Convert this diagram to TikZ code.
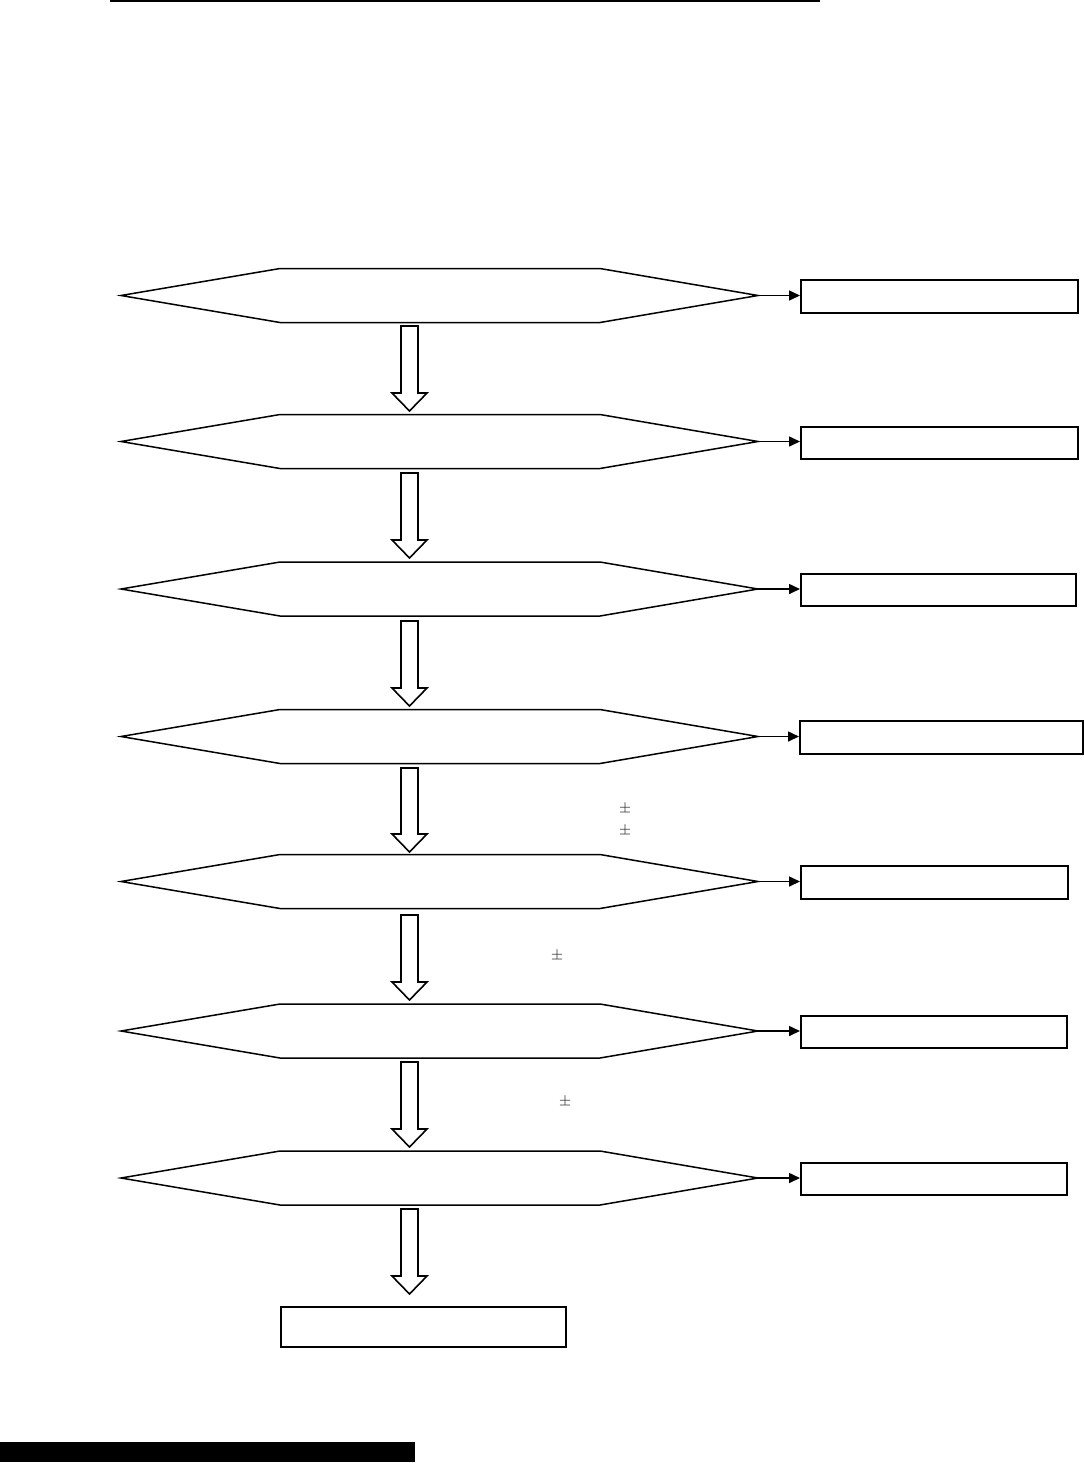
\documentclass[tikz,border=0pt]{standalone}
\usetikzlibrary{arrows.meta}
\tikzset{
  hx/.style={draw=black, line width=0.75pt, line join=miter},
  bx/.style={draw=black, line width=1pt, inner sep=0pt, anchor=north west, fill=white},
  ba/.style={draw=black, line width=0.8pt, fill=white, line join=miter},
  conn/.style={draw=black, line width=0.8pt, -{Triangle[length=5.5pt,width=5pt]}},
  pmlabel/.style={inner sep=0pt, text=black!85, font=\scriptsize}
}
\newcommand\hexa[2]{%
  \draw[hx] (121,#1) -- (280,{#1-27}) -- (600,{#1-27}) -- (758,#1) -- (600,{#1+27}) -- (280,{#1+27}) -- cycle;
  \coordinate (#2) at (758,#1);}
\newcommand\dnarrow[2]{%
  \draw[ba] (401,#1) -- (418,#1) -- (418,{#2-18}) -- (427,{#2-18}) -- (409.5,#2) -- (392,{#2-18}) -- (401,{#2-18}) -- cycle;}
\begin{document}
\begin{tikzpicture}[x=0.5pt,y=-0.5pt]
\useasboundingbox (0,0) rectangle (1083,1463);
% top rule
\draw[line width=1pt] (110,1) -- (820,1);
% hexagons
\hexa{295.5}{h1}
\hexa{441.5}{h2}
\hexa{589}{h3}
\hexa{736.5}{h4}
\hexa{881.5}{h5}
\hexa{1031}{h6}
\hexa{1178}{h7}
% side boxes
\node[bx, minimum width=138.5pt, minimum height=16.5pt] (b1) at (800,279) {};
\node[bx, minimum width=138.5pt, minimum height=16pt] (b2) at (800,426) {};
\node[bx, minimum width=137.5pt, minimum height=16pt] (b3) at (800,573) {};
\node[bx, minimum width=141.5pt, minimum height=16.5pt] (b4) at (799,720) {};
\node[bx, minimum width=133.5pt, minimum height=16.5pt] (b5) at (800,865) {};
\node[bx, minimum width=133pt, minimum height=16pt] (b6) at (800,1015) {};
\node[bx, minimum width=133pt, minimum height=16pt] (b7) at (800,1162) {};
% final box
\node[bx, minimum width=142.5pt, minimum height=20pt] (fin) at (280,1306) {};
% connectors
\draw[conn] (h1) -- (h1 -| b1.west);
\draw[conn] (h2) -- (h2 -| b2.west);
\draw[conn] (h3) -- (h3 -| b3.west);
\draw[conn] (h4) -- (h4 -| b4.west);
\draw[conn] (h5) -- (h5 -| b5.west);
\draw[conn] (h6) -- (h6 -| b6.west);
\draw[conn] (h7) -- (h7 -| b7.west);
% block arrows
\dnarrow{326}{411}
\dnarrow{473}{558}
\dnarrow{621}{706}
\dnarrow{768}{852}
\dnarrow{915}{1000}
\dnarrow{1062}{1147}
\dnarrow{1209}{1294}
% plus-minus labels
\node[pmlabel] (pm1) at (625,809) {$\pm$};
\node[pmlabel] (pm2) at (625,831) {$\pm$};
\node[pmlabel] (pm3) at (557,956) {$\pm$};
\node[pmlabel] (pm4) at (565,1102) {$\pm$};
% bottom bar
\fill[black] (0,1442) rectangle (415,1462);
\end{tikzpicture}
\end{document}
